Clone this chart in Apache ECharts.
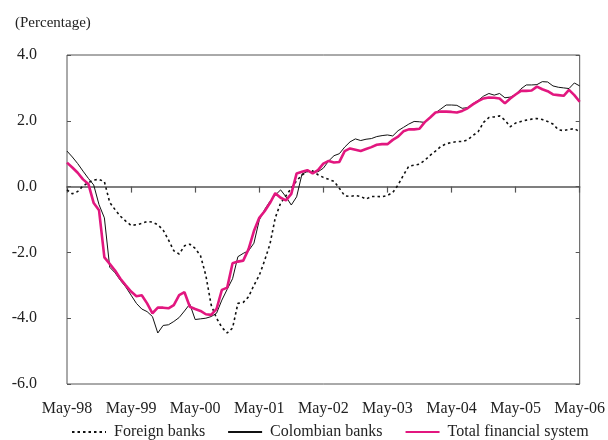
<!DOCTYPE html>
<html>
<head>
<meta charset="utf-8">
<script src="https://cdn.jsdelivr.net/npm/echarts@6/dist/echarts.min.js"></script>
<style>html,body{margin:0;padding:0;background:#fff}#c{width:608px;height:440px}</style>
</head>
<body>
<div id="c"></div>
<script>
// Monthly categories May-98 .. May-06
var monthNames = ["May","Jun","Jul","Aug","Sep","Oct","Nov","Dec","Jan","Feb","Mar","Apr"];
var startYear = 98;
var categories = [];
for (var i = 0; i < 97; i++) {
  var m = i % 12;
  var yr = (startYear + Math.floor((i + 4) / 12)) % 100;
  categories.push(monthNames[m] + "-" + (yr < 10 ? "0" + yr : "" + yr));
}
var yTicks = [-6, -4, -2, 0, 2, 4];

var foreignBanks = [
  -0.10,-0.22,-0.15,0.02,0.12,0.20,0.22,0.15,-0.48,-0.70,-0.90,-1.05,
  -1.18,-1.16,-1.12,-1.06,-1.08,-1.16,-1.32,-1.62,-1.95,-2.05,-1.80,-1.75,
  -1.88,-2.10,-2.70,-3.60,-4.00,-4.28,-4.45,-4.30,-3.55,-3.52,-3.35,-3.00,
  -2.70,-2.25,-1.75,-0.95,-0.50,-0.28,-0.05,0.18,0.35,0.46,0.48,0.36,
  0.28,0.22,0.16,-0.05,-0.28,-0.30,-0.27,-0.30,-0.38,-0.30,-0.30,-0.31,
  -0.27,-0.18,0.05,0.35,0.62,0.65,0.68,0.80,0.95,1.08,1.22,1.30,
  1.34,1.37,1.37,1.42,1.55,1.67,1.95,2.10,2.12,2.15,2.02,1.82,
  1.93,1.98,2.02,2.05,2.07,2.04,1.98,1.90,1.73,1.70,1.74,1.76,
  1.67
];
var colombianBanks = [
  1.08,0.90,0.70,0.47,0.25,0.05,-0.55,-0.95,-2.45,-2.62,-2.85,-3.05,
  -3.30,-3.55,-3.72,-3.80,-3.95,-4.45,-4.22,-4.20,-4.10,-3.98,-3.78,-3.57,
  -4.04,-4.02,-4.00,-3.95,-3.85,-3.45,-3.12,-2.80,-2.13,-2.03,-1.95,-1.72,
  -1.02,-0.70,-0.45,-0.26,-0.10,-0.31,-0.56,-0.31,0.38,0.46,0.45,0.45,
  0.56,0.78,0.94,1.00,1.20,1.36,1.45,1.40,1.44,1.46,1.52,1.55,
  1.57,1.54,1.70,1.80,1.90,1.98,1.97,1.95,2.10,2.24,2.36,2.48,
  2.48,2.47,2.38,2.40,2.52,2.62,2.75,2.83,2.78,2.83,2.70,2.72,
  2.80,2.97,3.09,3.09,3.10,3.19,3.18,3.06,3.02,3.00,2.98,3.15,
  3.06
];
var totalFinancial = [
  0.73,0.58,0.42,0.22,0.08,-0.50,-0.72,-2.15,-2.35,-2.55,-2.80,-3.00,
  -3.19,-3.33,-3.30,-3.55,-3.85,-3.68,-3.68,-3.70,-3.60,-3.30,-3.21,-3.65,
  -3.72,-3.78,-3.88,-3.90,-3.72,-3.14,-3.07,-2.33,-2.28,-2.25,-1.90,-1.35,
  -0.95,-0.75,-0.50,-0.20,-0.34,-0.42,-0.22,0.40,0.45,0.50,0.40,0.50,
  0.70,0.78,0.73,0.75,1.08,1.16,1.12,1.08,1.14,1.20,1.27,1.29,
  1.29,1.42,1.52,1.68,1.74,1.74,1.76,1.96,2.10,2.25,2.28,2.28,
  2.27,2.25,2.30,2.38,2.50,2.60,2.68,2.71,2.70,2.68,2.53,2.68,
  2.80,2.91,2.91,2.92,3.04,2.96,2.90,2.80,2.78,2.76,2.94,2.78,
  2.58
];

var FONT = '"Liberation Serif", "DejaVu Serif", serif';
var chart = echarts.init(document.getElementById('c'), null, {renderer: 'canvas'});
chart.setOption({
  animation: false,
  backgroundColor: '#fff',
  textStyle: {fontFamily: FONT, color: '#222'},
  title: {
    text: '(Percentage)', left: 10, top: 11,
    textStyle: {fontFamily: FONT, fontSize: 15, fontWeight: 'normal', color: '#222'}
  },
  legend: {
    left: 71, top: 423, padding: 0, itemWidth: 34, itemHeight: 12, itemGap: 22,
    itemStyle: {opacity: 0},
    textStyle: {fontFamily: FONT, fontSize: 16, lineHeight: 18, color: '#222', padding: [0, 0, 0, 3]},
    data: ['Foreign banks', 'Colombian banks', 'Total financial system']
  },
  grid: {left: 67, right: 22, top: 55, bottom: 56, show: true, borderColor: '#555', borderWidth: 1, containLabel: false},
  xAxis: [{
    type: 'category', data: categories, boundaryGap: false, position: 'bottom',
    axisLine: {show: false, onZero: false},
    axisTick: {show: false},
    axisLabel: {interval: 11, margin: 17, fontSize: 16, color: '#222', fontFamily: FONT, showMaxLabel: true},
    splitLine: {show: false}
  }, {
    type: 'category', data: categories, boundaryGap: false, position: 'top',
    axisLine: {show: true, onZero: true, lineStyle: {color: '#555', width: 1.5}},
    axisTick: {show: true, inside: true, interval: 11, length: 6, lineStyle: {color: '#555', width: 1.2}},
    axisLabel: {show: false},
    splitLine: {show: false}
  }],
  yAxis: [{
    type: 'value', min: yTicks[0], max: yTicks[yTicks.length - 1], interval: 2, position: 'left',
    axisLine: {show: false},
    axisTick: {show: true, inside: true, length: 4, lineStyle: {color: '#555'}},
    axisLabel: {margin: 30, fontSize: 16, color: '#222', fontFamily: FONT, formatter: function (v) { return v.toFixed(1); }},
    splitLine: {show: false}
  }, {
    type: 'value', min: yTicks[0], max: yTicks[yTicks.length - 1], interval: 2, position: 'right',
    axisLine: {show: false},
    axisTick: {show: true, inside: true, length: 4, lineStyle: {color: '#555'}},
    axisLabel: {show: false},
    splitLine: {show: false}
  }],
  series: [{
    name: 'Foreign banks', type: 'line', data: foreignBanks, symbol: 'none',
    lineStyle: {color: '#111', width: 1.6, type: [2.5, 3]}, itemStyle: {color: '#111'}, z: 2
  }, {
    name: 'Colombian banks', type: 'line', data: colombianBanks, symbol: 'none',
    lineStyle: {color: '#111', width: 1}, itemStyle: {color: '#111'}, z: 3
  }, {
    name: 'Total financial system', type: 'line', data: totalFinancial, symbol: 'none',
    lineStyle: {color: '#e2177f', width: 2.6}, itemStyle: {color: '#e2177f'}, z: 4
  }]
});
</script>
</body>
</html>
